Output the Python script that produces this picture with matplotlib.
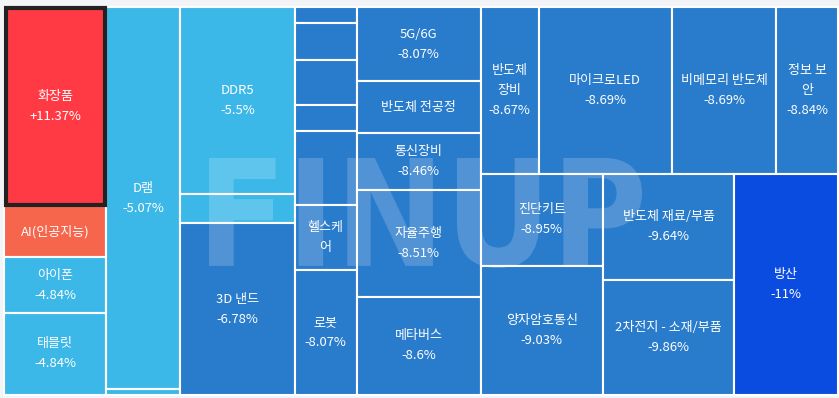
import matplotlib
matplotlib.use("Agg")
import matplotlib.pyplot as plt
from matplotlib.patches import Rectangle, PathPatch
from matplotlib.font_manager import FontProperties
from matplotlib.textpath import TextPath
from matplotlib.path import Path

# theme cells: name, size weight, daily change (%)
names = [
    "화장품", "AI(인공지능)", "아이폰", "태블릿",
    "D램", "",
    "DDR5", "", "3D 낸드",
    "", "", "", "", "", "헬스케어", "로봇",
    "5G/6G", "반도체 전공정", "통신장비", "자율주행", "메타버스",
    "반도체 장비", "마이크로LED", "비메모리 반도체", "정보 보안",
    "진단키트", "양자암호통신", "반도체 재료/부품", "2차전지 - 소재/부품", "방산",
]
sizes = [
    204, 52, 57, 84,
    283, 4.4,
    213, 34, 196,
    10.2, 22.6, 27.9, 16.4, 45.6, 40.3, 77.5,
    91.8, 64.5, 70.1, 132.7, 122.1,
    96.9, 222.9, 173.7, 103.5,
    112.7, 158.0, 138.9, 150.7, 229.8,
]
changes = [
    11.37, 3.2, -4.84, -4.84,
    -5.07, -5.0,
    -5.5, -5.3, -6.78,
    -8.0, -8.0, -8.0, -8.0, -8.0, -8.05, -8.07,
    -8.07, -8.3, -8.46, -8.51, -8.6,
    -8.67, -8.69, -8.69, -8.84,
    -8.95, -9.03, -9.64, -9.86, -11,
]

# slice-and-dice grouping ("h" = side by side, "v" = stacked)
tree = ("h", [
    ("v", [0, 1, 2, 3]),
    ("v", [4, 5]),
    ("v", [6, 7, 8]),
    ("v", [9, 10, 11, 12, 13, 14, 15]),
    ("v", [16, 17, 18, 19, 20]),
    ("v", [
        ("h", [21, 22, 23, 24]),
        ("h", [("v", [25, 26]), ("v", [27, 28]), 29]),
    ]),
])


def weight(node):
    if isinstance(node, int):
        return sizes[node]
    return sum(weight(k) for k in node[1])


def layout(node, x, y, w, h, out):
    if isinstance(node, int):
        out[node] = (x, y, w, h)
        return
    direction, kids = node
    total = weight(node)
    pos = 0.0
    for k in kids:
        f = weight(k) / total
        if direction == "h":
            layout(k, x + pos * w, y, w * f, h, out)
        else:
            layout(k, x, y + pos * h, w, h * f, out)
        pos += f


def color_for(c):
    if c >= 5:
        return "#ff3a44"
    if c >= 0:
        return "#f6664c"
    if c > -6:
        return "#3cb8e8"
    if c > -10:
        return "#297bcc"
    return "#0b4ce0"


W, H = 839, 398
fig = plt.figure(figsize=(W / 100, H / 100), dpi=100, facecolor="#f3f4f8")
ax = fig.add_axes([0, 0, 1, 1])
ax.set_xlim(0, W)
ax.set_ylim(H, 0)
ax.axis("off")

rects = {}
layout(tree, 4, 7, 834, 388, rects)

font = FontProperties(family=["Noto Sans CJK KR", "DejaVu Sans"], size=9.4)
renderer = fig.canvas.get_renderer()


def text_w(s):
    return renderer.get_text_width_height_descent(s, font, ismath=False)[0]


def wrap(s, maxw):
    lines, cur = [], ""
    for ch in s:
        if text_w((cur + ch).strip()) <= maxw or not cur.strip():
            cur += ch
        else:
            lines.append(cur.strip())
            cur = ch
    if cur.strip():
        lines.append(cur.strip())
    return lines


top = max(range(len(changes)), key=lambda i: changes[i])
line_h = 20

for i, (x, y, w, h) in rects.items():
    ax.add_patch(Rectangle((x, y), w, h, facecolor=color_for(changes[i]),
                           edgecolor="white", linewidth=1.5, zorder=1))
    if i == top:
        ax.add_patch(Rectangle((x + 2, y + 1), w - 3, h - 2, facecolor="none",
                               edgecolor="#222222", linewidth=3, zorder=4))
    if not names[i]:
        continue
    lines = wrap(names[i], w - 14)
    if (len(lines) + 1) * line_h + 14 <= h:
        lines = lines + [f"{changes[i]:+g}%"]
    cx, cy = x + w / 2, y + h / 2
    n = len(lines)
    for k, s in enumerate(lines):
        ax.text(cx, cy + (k - (n - 1) / 2) * line_h, s, ha="center", va="center",
                color="white", fontproperties=font, zorder=3)

# faint watermark
tp = TextPath((0, 0), "FINUP", size=100, prop=FontProperties(family="DejaVu Sans", weight="bold"))
v = tp.vertices.copy()
bx0, by0 = v[:, 0].min(), v[:, 1].min()
bx1, by1 = v[:, 0].max(), v[:, 1].max()
v[:, 0] = 197 + (v[:, 0] - bx0) / (bx1 - bx0) * (642 - 197)
v[:, 1] = 268 - (v[:, 1] - by0) / (by1 - by0) * (268 - 158)
ax.add_patch(PathPatch(Path(v, tp.codes), facecolor="white", edgecolor="none",
                       alpha=0.19, zorder=2))

fig.savefig("out.png", dpi=100, facecolor=fig.get_facecolor())
